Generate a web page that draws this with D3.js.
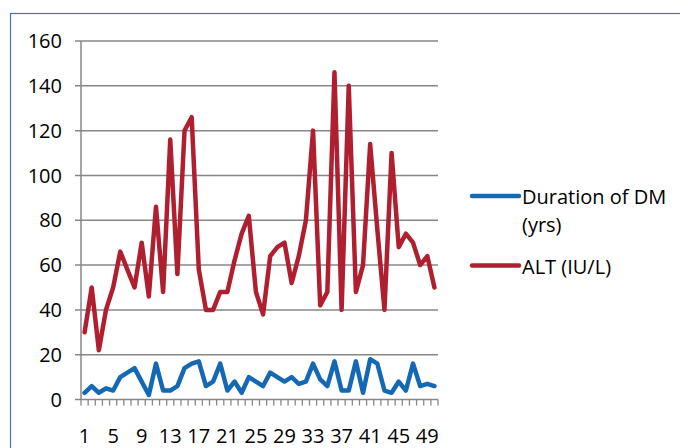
<!DOCTYPE html>
<html>
<head>
<meta charset="utf-8">
<script src="https://cdn.jsdelivr.net/npm/d3@7"></script>
<style>
  body { margin: 0; background: #fff; }
  svg text { font-family: "Open Sans", sans-serif; font-size: 20px; fill: #000; }
</style>
</head>
<body>
<svg width="680" height="448"></svg>
<script>
// data
var cases = d3.range(1, 51);
var duration = [3,6,3,5,4,10,12,14,8,2,16,4,4,6,14,16,17,6,8,16,4,8,3,10,8,6,12,10,8,10,7,8,16,9,6,17,4,4,17,3,18,16,4,3,8,4,16,6,7,6];
var alt = [30,50,22,40,50,66,58,50,70,46,86,48,116,56,120,126,58,40,40,48,48,62,74,82,48,38,64,68,70,52,64,80,120,42,48,146,40,140,48,60,114,76,40,110,68,74,70,60,64,50];
var yTicks = [0,20,40,60,80,100,120,140,160];
var xLabels = [1,5,9,13,17,21,25,29,33,37,41,45,49];

var series = [
  {name: ["Duration of DM", "(yrs)"], values: duration, color: "#1468b4"},
  {name: ["ALT (IU/L)"], values: alt, color: "#b01f30"}
];

var svg = d3.select("svg");

// chart border
svg.append("rect").attr("x", 10.5).attr("y", 13.5).attr("width", 680).attr("height", 450)
  .attr("fill", "none").attr("stroke", "#4a73be").attr("stroke-width", 1.2);

var x = d3.scaleBand().domain(cases).range([81, 438]);
var y = d3.scaleLinear().domain([0, 160]).range([399.5, 41]);

var grid = "#878787";

// gridlines + y labels
svg.append("g").selectAll("line").data(yTicks).join("line")
  .attr("x1", 75).attr("x2", 438)
  .attr("y1", d => y(d)).attr("y2", d => y(d))
  .attr("stroke", grid).attr("stroke-width", 1.5);

svg.append("g").selectAll("text").data(yTicks).join("text")
  .attr("x", 62).attr("y", d => y(d)).attr("dy", "0.36em")
  .attr("text-anchor", "end")
  .text(d => d);

// y axis line
svg.append("line").attr("x1", 81).attr("x2", 81).attr("y1", y(160)).attr("y2", y(0))
  .attr("stroke", grid).attr("stroke-width", 1.5);

// x ticks between categories
var edges = cases.map(d => x(d)).concat([x.range()[1]]);
svg.append("g").selectAll("line").data(edges).join("line")
  .attr("x1", d => d).attr("x2", d => d)
  .attr("y1", y(0)).attr("y2", y(0) + 6)
  .attr("stroke", grid).attr("stroke-width", 1.3);

svg.append("g").selectAll("text").data(xLabels).join("text")
  .attr("x", d => x(d) + x.bandwidth() / 2).attr("y", 443)
  .attr("text-anchor", "middle")
  .text(d => d);

// lines
var line = d3.line()
  .x((d, i) => x(cases[i]) + x.bandwidth() / 2)
  .y(d => y(d));

svg.append("g").selectAll("path").data(series).join("path")
  .attr("d", d => line(d.values))
  .attr("fill", "none")
  .attr("stroke", d => d.color)
  .attr("stroke-width", 4.5)
  .attr("stroke-linejoin", "round")
  .attr("stroke-linecap", "round");

// legend
var legY = [196, 265.5];
var leg = svg.append("g").selectAll("g").data(series).join("g")
  .attr("transform", (d, i) => "translate(0," + legY[i] + ")");

leg.append("line").attr("x1", 472).attr("x2", 519).attr("y1", 0).attr("y2", 0)
  .attr("stroke", d => d.color).attr("stroke-width", 4.5).attr("stroke-linecap", "round");

leg.append("text").attr("x", 522).attr("y", 8)
  .selectAll("tspan").data(d => d.name).join("tspan")
  .attr("x", 522).attr("dy", (d, i) => i ? 28 : 0)
  .text(d => d);
</script>
</body>
</html>
